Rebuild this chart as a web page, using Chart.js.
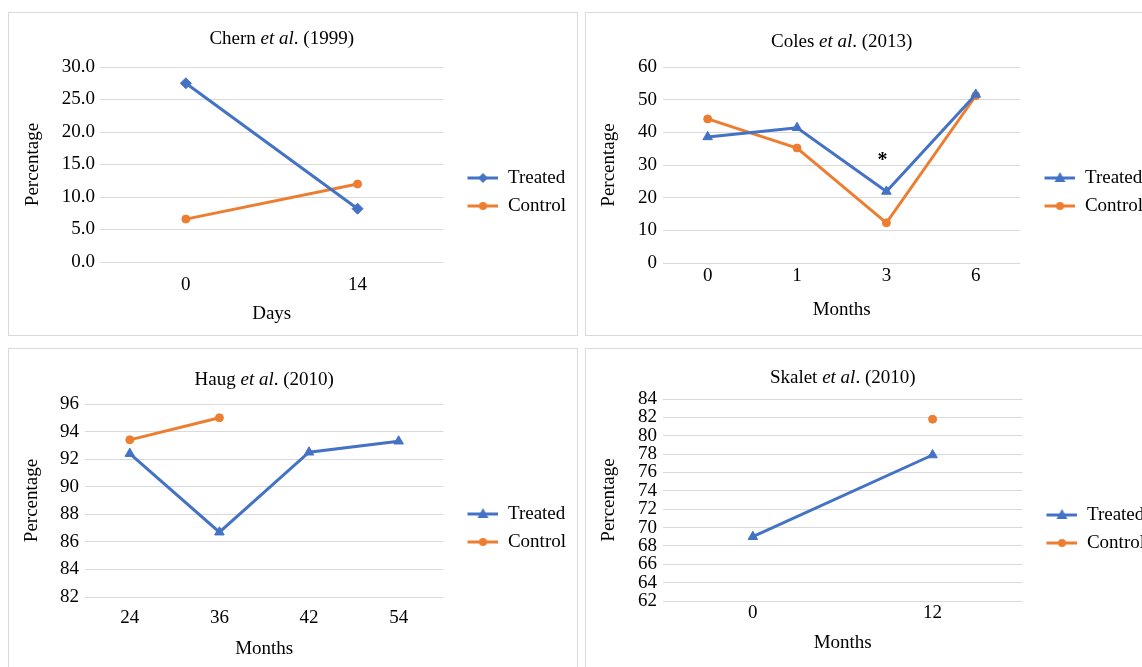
<!DOCTYPE html>
<html>
<head>
<meta charset="utf-8">
<script src="https://cdn.jsdelivr.net/npm/chart.js@4.4.1/dist/chart.umd.min.js"></script>
<style>
  html, body { margin: 0; padding: 0; background: #fff; overflow: hidden; width: 1142px; height: 667px; }
  .panel { position: absolute; border: 1px solid #d9d9d9; background: #fff; }
  .panel canvas { display: block; }
</style>
</head>
<body>
<div class="panel" style="left:8px;top:12px"><canvas id="chern" width="568" height="322"></canvas></div>
<div class="panel" style="left:585px;top:12px"><canvas id="coles" width="568" height="322"></canvas></div>
<div class="panel" style="left:8px;top:348px"><canvas id="haug" width="568" height="322"></canvas></div>
<div class="panel" style="left:585px;top:348px"><canvas id="skalet" width="568" height="322"></canvas></div>
<script>
// values
const chernDays = ['0', '14'];
const chernTreated = [27.5, 8.2];
const chernControl = [6.6, 12.0];

const colesMonths = ['0', '1', '3', '6'];
const colesTreated = [38.6, 41.4, 21.9, 51.6];
const colesControl = [44.1, 35.2, 12.3, 51.2];

const haugMonths = ['24', '36', '42', '54'];
const haugTreated = [92.4, 86.7, 92.5, 93.3];
const haugControl = [93.4, 95.0, null, null];

const skaletMonths = ['0', '12'];
const skaletTreated = [69.0, 77.9];
const skaletControl = [null, 81.8];

const BLUE = '#4472C4';
const ORANGE = '#ED7D31';
const GRID = '#d9d9d9';
const FONT = 'Liberation Serif';
const SIZE = 19;

Chart.defaults.font.family = FONT;
Chart.defaults.font.size = SIZE;
Chart.defaults.color = '#000';

// little line+marker picture for the legend, like excel does
function legendIcon(color, marker) {
  let c = document.createElement('canvas');
  c.width = 46;
  c.height = 14;
  let ctx = c.getContext('2d');
  ctx.strokeStyle = color;
  ctx.fillStyle = color;
  ctx.lineWidth = 3;
  ctx.beginPath();
  ctx.moveTo(15, 7);
  ctx.lineTo(46, 7);
  ctx.stroke();
  let cx = 30.5, cy = 7;
  ctx.beginPath();
  if (marker === 'circle') {
    ctx.arc(cx, cy, 4, 0, Math.PI * 2);
  } else if (marker === 'triangle') {
    ctx.moveTo(cx, cy - 6);
    ctx.lineTo(cx + 5.5, cy + 4);
    ctx.lineTo(cx - 5.5, cy + 4);
    ctx.closePath();
  } else {
    ctx.moveTo(cx, cy - 5);
    ctx.lineTo(cx + 5, cy);
    ctx.lineTo(cx, cy + 5);
    ctx.lineTo(cx - 5, cy);
    ctx.closePath();
  }
  ctx.fill();
  return c;
}

// title with italic "et al"
const panelTitle = {
  id: 'panelTitle',
  afterDraw(chart, args, opts) {
    let ctx = chart.ctx;
    let parts = opts.parts;
    ctx.save();
    ctx.textBaseline = 'middle';
    ctx.fillStyle = '#000';
    let widths = parts.map(p => {
      ctx.font = (p.italic ? 'italic ' : '') + SIZE + 'px "' + FONT + '"';
      return ctx.measureText(p.text).width;
    });
    let total = widths.reduce((a, b) => a + b, 0);
    let area = chart.chartArea;
    let x = (area.left + area.right) / 2 + opts.dx - total / 2;
    parts.forEach((p, i) => {
      ctx.font = (p.italic ? 'italic ' : '') + SIZE + 'px "' + FONT + '"';
      ctx.textAlign = 'left';
      ctx.fillText(p.text, x, opts.y);
      x += widths[i];
    });
    ctx.restore();
  }
};

// significance star above a category
const starMark = {
  id: 'starMark',
  afterDatasetsDraw(chart, args, opts) {
    if (!opts.show) return;
    let ctx = chart.ctx;
    let x = chart.scales.x.getPixelForValue(opts.index) + opts.dx;
    let y = chart.scales.y.getPixelForValue(opts.value);
    ctx.save();
    ctx.font = 'bold 20px "' + FONT + '"';
    ctx.fillStyle = '#000';
    ctx.textAlign = 'center';
    ctx.textBaseline = 'middle';
    ctx.fillText('*', x, y + 2);
    ctx.restore();
  }
};

function buildChart(id, p) {
  let icons = [legendIcon(BLUE, p.treatedMarker), legendIcon(ORANGE, 'circle')];
  return new Chart(document.getElementById(id), {
    type: 'line',
    data: {
      labels: p.labels,
      datasets: [{
        label: 'Treated',
        data: p.treated,
        borderColor: BLUE,
        backgroundColor: BLUE,
        borderWidth: 3,
        pointStyle: p.treatedMarker,
        pointRadius: p.treatedMarker === 'triangle' ? 5.5 : 5.5,
        pointBorderWidth: 1,
        tension: 0
      }, {
        label: 'Control',
        data: p.control,
        borderColor: ORANGE,
        backgroundColor: ORANGE,
        borderWidth: 3,
        pointStyle: 'circle',
        pointRadius: 4,
        pointBorderWidth: 1,
        tension: 0
      }]
    },
    options: {
      responsive: false,
      animation: false,
      layout: {
        padding: { top: p.top, left: 0, right: p.padRight, bottom: p.padBottom }
      },
      plugins: {
        legend: {
          position: 'right',
          labels: {
            usePointStyle: true,
            pointStyleWidth: 46,
            padding: 9,
            color: '#000',
            font: { size: SIZE },
            generateLabels(chart) {
              let items = Chart.defaults.plugins.legend.labels.generateLabels(chart);
              items.forEach((it, i) => { it.pointStyle = icons[i]; });
              return items;
            }
          }
        },
        tooltip: { enabled: false },
        panelTitle: { parts: p.title, y: p.titleY, dx: p.titleDx || 0 },
        starMark: p.star || { show: false }
      },
      scales: {
        x: {
          offset: true,
          grid: { display: false },
          border: { display: false },
          ticks: { padding: p.xTickPad, font: { size: SIZE } },
          title: { display: true, text: p.xTitle, font: { size: SIZE }, padding: { top: 0, bottom: p.xTitlePad } },
          afterFit(scale) { scale.height = p.xHeight; }
        },
        y: {
          min: p.yMin,
          max: p.yMax,
          grid: { color: GRID, lineWidth: 1, drawTicks: false },
          border: { display: false },
          ticks: {
            stepSize: p.yStep,
            autoSkip: false,
            padding: p.yTickPad,
            font: { size: SIZE },
            callback: p.yFormat || (v => v)
          },
          title: { display: true, text: 'Percentage', font: { size: SIZE }, padding: { top: p.yTitlePad, bottom: 0 } },
          afterFit(scale) { scale.width = p.yWidth; }
        }
      }
    },
    plugins: [panelTitle, starMark]
  });
}

buildChart('chern', {
  labels: chernDays, treated: chernTreated, control: chernControl,
  treatedMarker: 'rectRot',
  title: [{ text: 'Chern ' }, { text: 'et al', italic: true }, { text: '. (1999)' }],
  titleY: 26, titleDx: 10,
  top: 54, padBottom: 18, padRight: 1,
  xHeight: 55, xTickPad: 4, xTitle: 'Days', xTitlePad: -8,
  yWidth: 91, yTickPad: 5, yTitlePad: 13,
  yMin: 0, yMax: 30, yStep: 5, yFormat: v => v.toFixed(1)
});

buildChart('coles', {
  labels: colesMonths, treated: colesTreated, control: colesControl,
  treatedMarker: 'triangle',
  title: [{ text: 'Coles ' }, { text: 'et al', italic: true }, { text: '. (2013)' }],
  titleY: 29,
  top: 54, padBottom: 18, padRight: 1,
  xHeight: 54, xTickPad: -6, xTitle: 'Months', xTitlePad: -4,
  yWidth: 77, yTickPad: 6, yTitlePad: 12,
  yMin: 0, yMax: 60, yStep: 10,
  star: { show: true, index: 2, value: 32, dx: -4 }
});

buildChart('haug', {
  labels: haugMonths, treated: haugTreated, control: haugControl,
  treatedMarker: 'triangle',
  title: [{ text: 'Haug ' }, { text: 'et al', italic: true }, { text: '. (2010)' }],
  titleY: 31,
  top: 55, padBottom: 19, padRight: 1,
  xHeight: 55, xTickPad: 2, xTitle: 'Months', xTitlePad: -8,
  yWidth: 76, yTickPad: 6, yTitlePad: 12,
  yMin: 82, yMax: 96, yStep: 2
});

buildChart('skalet', {
  labels: skaletMonths, treated: skaletTreated, control: skaletControl,
  treatedMarker: 'triangle',
  title: [{ text: 'Skalet ' }, { text: 'et al', italic: true }, { text: '. (2010)' }],
  titleY: 29,
  top: 50, padBottom: 12, padRight: -1,
  xHeight: 58, xTickPad: -7, xTitle: 'Months', xTitlePad: 5,
  yWidth: 77, yTickPad: 6, yTitlePad: 12,
  yMin: 62, yMax: 84, yStep: 2
});
</script>
</body>
</html>
